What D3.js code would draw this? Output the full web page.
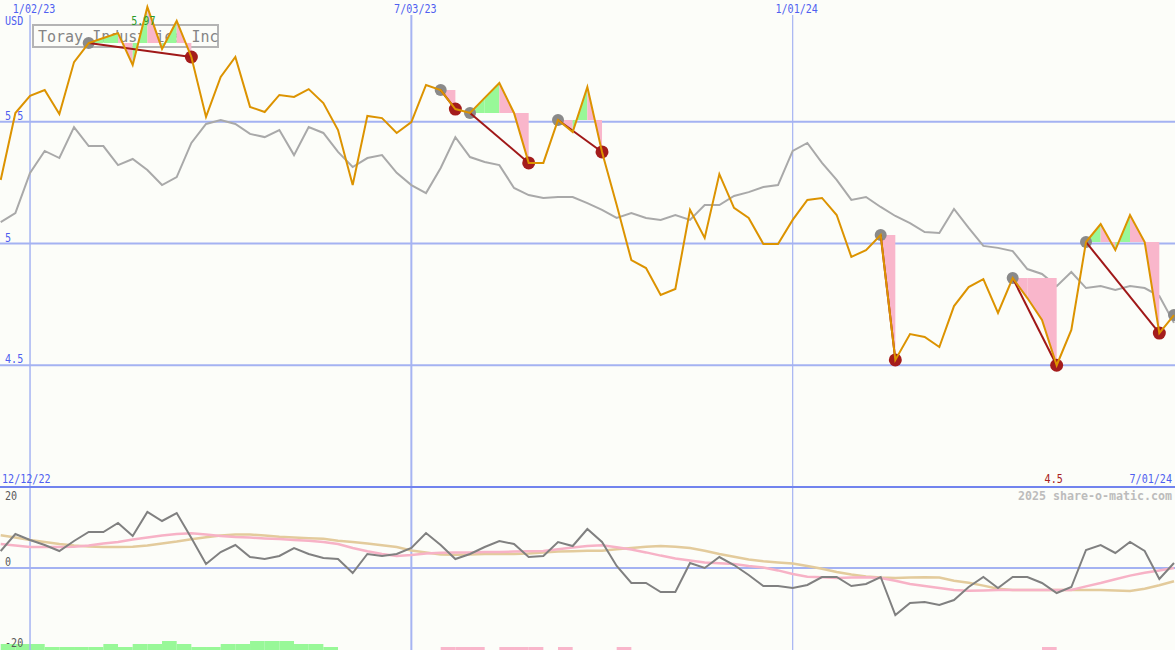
<!DOCTYPE html>
<html><head><meta charset="utf-8">
<script src="https://cdn.jsdelivr.net/npm/d3@7"></script>
<style>
html,body{margin:0;padding:0;background:#fcfdf9;}
svg{display:block;}
text{font-family:"DejaVu Sans Mono","Liberation Mono",monospace;}
</style></head><body>
<svg id="chart" width="1175" height="650"></svg>
<script>
// ---------------- DATA ----------------
const firstWeek = "2022-12-19";           // weekly closes, one per Monday
const endLabel = "7/01/24";
const startLabel = "12/12/22";
const currencyLabel = "USD";
const titleText = "Toray Industries Inc";
const watermark = "2025 share-o-matic.com";

const priceValues = [
 5.261,5.536,5.606,5.630,5.532,5.745,5.823,5.844,5.864,5.733,
 5.971,5.799,5.914,5.766,5.520,5.684,5.766,5.561,5.540,5.610,
 5.602,5.634,5.577,5.466,5.240,5.524,5.515,5.454,5.499,5.651,
 5.630,5.552,5.536,5.598,5.659,5.536,5.331,5.331,5.507,5.458,
 5.643,5.376,5.158,4.932,4.899,4.789,4.813,5.138,5.023,5.285,
 5.146,5.105,4.998,4.998,5.097,5.179,5.187,5.117,4.945,4.973,
 5.035,4.522,4.628,4.616,4.575,4.743,4.821,4.854,4.715,4.858,
 4.776,4.686,4.500,4.645,5.006,5.080,4.973,5.117,5.006,4.632,
 4.706];

const indexValues = [
 5.088,5.125,5.290,5.380,5.351,5.478,5.400,5.400,5.322,5.347,
 5.302,5.240,5.273,5.413,5.491,5.507,5.491,5.450,5.437,5.466,
 5.363,5.478,5.454,5.376,5.314,5.351,5.363,5.290,5.240,5.207,
 5.310,5.437,5.355,5.335,5.322,5.228,5.199,5.187,5.191,5.191,
 5.166,5.138,5.105,5.125,5.105,5.097,5.117,5.097,5.158,5.158,
 5.195,5.211,5.232,5.240,5.380,5.413,5.331,5.261,5.179,5.191,
 5.150,5.113,5.084,5.047,5.043,5.142,5.064,4.990,4.982,4.969,
 4.895,4.875,4.825,4.883,4.817,4.825,4.809,4.825,4.817,4.784,
 4.674];

const momentumValues = [
 4.25,8.5,7,5.75,4.25,6.75,9,9,11.25,8,
 14,11.75,13.75,7.5,1,4,5.75,2.75,2.25,3,
 5,3.5,2.5,2.25,-1.25,3.5,3,3.5,5,8.75,
 5.75,2.25,3.5,5.25,6.75,6,2.75,3,6.5,5.5,
 9.75,6.5,0.5,-3.75,-3.75,-6,-6,1.25,0,2.75,
 0.75,-1.75,-4.5,-4.5,-5,-4.25,-2.25,-2.25,-4.5,-4,
 -2.25,-11.75,-8.75,-8.5,-9.25,-8,-4.75,-2.25,-5,-2.25,
 -2.25,-3.75,-6.25,-4.75,4.5,5.75,3.75,6.5,4.25,-2.75,
 1.25];

const avgFast = [
 6.0,5.6,5.25,5.25,5.25,5.3,5.6,6.1,6.5,7.1,
 7.6,8.1,8.5,8.7,8.4,8.0,7.75,7.6,7.4,7.25,
 7.0,6.8,6.5,6.0,5.0,4.2,3.5,3.0,3.25,3.6,
 3.8,3.9,3.9,4.0,4.0,4.1,4.2,4.25,4.7,5.1,
 5.5,5.7,5.2,4.6,3.9,3.1,2.4,1.9,1.4,1.2,
 1.0,0.5,0.1,-0.6,-1.5,-2.2,-2.3,-2.5,-2.4,-2.3,
 -2.5,-3.2,-4.0,-4.5,-5.0,-5.5,-5.7,-5.6,-5.5,-5.5,
 -5.5,-5.5,-5.5,-5.5,-4.6,-3.75,-2.8,-1.9,-1.2,-0.6,
 0];

const avgSlow = [
 8.2,7.6,7.0,6.5,6.0,5.6,5.4,5.25,5.25,5.3,
 5.6,6.1,6.6,7.2,7.7,8.1,8.4,8.35,8.1,7.8,
 7.6,7.45,7.3,6.8,6.5,6.1,5.7,5.25,4.4,3.9,
 3.4,3.3,3.4,3.5,3.5,3.5,3.6,3.9,4.1,4.2,
 4.3,4.3,4.7,5.0,5.3,5.5,5.3,5.0,4.3,3.5,
 2.8,2.1,1.7,1.4,1.1,0.5,-0.2,-1.0,-1.6,-2.1,
 -2.4,-2.5,-2.4,-2.3,-2.4,-3.2,-3.7,-4.4,-5.2,-5.5,
 -5.5,-5.5,-5.5,-5.5,-5.5,-5.5,-5.6,-5.75,-5.2,-4.3,
 -3.3];

const signalBars = [
 2,2,2,1,1,1,1,2,1,2,
 2,3,2,1,1,2,2,3,3,3,
 2,2,1,0,0,0,0,0,0,0,
 -1,-1,-1,0,-1,-1,-1,0,-1,0,
 0,0,-1,0,0,0,0,0,0,0,
 0,0,0,0,0,0,0,0,0,0,
 0,0,0,0,0,0,0,0,0,0,
 0,-1,0,0,0,0,0,0,0,0,
 0];

const swingStart = [6,30,32,38,60,69,74,80];
const swingEnd   = [13,31,36,41,61,72,79,null];

const gridDates  = ["2023-01-02","2023-07-03","2024-01-01"];
const gridDateLabels = ["1/02/23","7/03/23","1/01/24"];
const priceTicks = [5.5,5,4.5];
const priceTickLabels = ["5.5","5","4.5"];
const oscTicks = [20,0,-20];
const oscTickLabels = ["20","0","-20"];

// ---------------- DRAWING ----------------
const W = 1175, H = 650;
const svg = d3.select("#chart");
const parse = d3.utcParse("%Y-%m-%d");
const t0 = parse(firstWeek);
const dates = priceValues.map((_, i) => d3.utcDay.offset(t0, 7 * i));

const x = d3.scaleUtc().domain([dates[0], dates[dates.length - 1]]).range([0.7, 1174]);
const y = d3.scaleLinear().domain([4, 6]).range([487, 0]);
const yo = d3.scaleLinear().domain([-20, 20]).range([648, 488]);
const hb = d3.scaleLinear().domain([0, 3]).range([0, 9]);
const step = x(dates[1]) - x(dates[0]);

const BLUE_TXT = "#4f5ff0", GRID = "#a4b2f2";

svg.append("rect").attr("width", W).attr("height", H).attr("fill", "#fcfdf9");

function label(txt, px, py, opts = {}) {
  const sx = opts.sx || 0.84;
  const g = svg.append("g").attr("transform", `translate(${px},${py}) scale(${sx},1)`);
  g.append("text").text(txt)
    .attr("font-size", opts.size || 12)
    .attr("font-weight", opts.weight || "normal")
    .attr("fill", opts.fill || BLUE_TXT)
    .attr("text-anchor", opts.anchor || "start");
  return g;
}

// signal bars (bottom of oscillator panel)
signalBars.forEach((v, i) => {
  if (v === 0) return;
  const h = hb(Math.abs(v));
  svg.append("rect").attr("x", x(dates[i])).attr("width", step)
    .attr("y", H - h).attr("height", h)
    .attr("fill", v > 0 ? "#98f898" : "#f9b6cb");
});

// vertical date grid
const vWidths = [1.5, 2, 1.2];
gridDates.forEach((d, i) => {
  const gx = x(parse(d));
  svg.append("line").attr("x1", gx).attr("x2", gx).attr("y1", 15).attr("y2", H)
    .attr("stroke", "#a6b4f2").attr("stroke-width", vWidths[i]);
  label(gridDateLabels[i], gx + 4, 13, {anchor: "middle"});
});

// horizontal price grid
priceTicks.forEach((t, i) => {
  svg.append("line").attr("x1", 0).attr("x2", W).attr("y1", y(t)).attr("y2", y(t))
    .attr("stroke", GRID).attr("stroke-width", 2);
  label(priceTickLabels[i], 5, y(t) - 2);
});
label(currencyLabel, 5, 25);

// panel divider
svg.append("line").attr("x1", 0).attr("x2", W).attr("y1", 487).attr("y2", 487)
  .attr("stroke", "#7183ee").attr("stroke-width", 2);
// oscillator zero line
svg.append("line").attr("x1", 0).attr("x2", W).attr("y1", yo(0)).attr("y2", yo(0))
  .attr("stroke", GRID).attr("stroke-width", 2);
oscTicks.forEach((t, i) => {
  const ty = t === 20 ? 500 : (t === 0 ? yo(0) - 2 : 647);
  label(oscTickLabels[i], 5, ty, {fill: "#5a5a5a"});
});

// title box
svg.append("rect").attr("x", 33).attr("y", 25).attr("width", 185).attr("height", 22)
  .attr("fill", "none").attr("stroke", "#b4b4b4").attr("stroke-width", 2);
svg.append("text").attr("x", 38).attr("y", 42).text(titleText)
  .attr("font-size", 15).attr("fill", "#858585");

// comparison (gray) line
const lineP = d3.line().x((d, i) => x(dates[i])).y(d => y(d));
svg.append("path").datum(indexValues).attr("d", lineP)
  .attr("fill", "none").attr("stroke", "#a9a9a9").attr("stroke-width", 2);

// swing fills
const fillG = svg.append("g");
swingStart.forEach((s, k) => {
  const e = swingEnd[k];
  if (e == null) return;
  const lvl = y(priceValues[s]);
  for (let i = s; i < e; i++) {
    const x0 = x(dates[i]), x1 = x(dates[i + 1]);
    const y0 = y(priceValues[i]), y1 = y(priceValues[i + 1]);
    fillG.append("path")
      .attr("d", `M${x0},${y0}L${x1},${y1}L${x1},${lvl}L${x0},${lvl}Z`)
      .attr("fill", priceValues[i + 1] > priceValues[i] ? "#98f898" : "#f9b6cb");
  }
});

// swing dots
swingStart.forEach((s, k) => {
  svg.append("circle").attr("cx", x(dates[s])).attr("cy", y(priceValues[s])).attr("r", 6)
    .attr("fill", "#8a8a8a");
  const e = swingEnd[k];
  if (e != null) {
    svg.append("circle").attr("cx", x(dates[e])).attr("cy", y(priceValues[e])).attr("r", 6.5)
      .attr("fill", "#a41c1c");
  }
});
// swing connecting lines
swingStart.forEach((s, k) => {
  const e = swingEnd[k];
  if (e == null) return;
  svg.append("line").attr("x1", x(dates[s])).attr("y1", y(priceValues[s]))
    .attr("x2", x(dates[e])).attr("y2", y(priceValues[e]))
    .attr("stroke", "#a01818").attr("stroke-width", 2);
});

// price line
svg.append("path").datum(priceValues).attr("d", lineP)
  .attr("fill", "none").attr("stroke", "#dc9300").attr("stroke-width", 2);

// max / min labels
const iMax = d3.maxIndex(priceValues), iMin = d3.minIndex(priceValues);
const fmt = d3.format(".2~f");
label(fmt(priceValues[iMax]), x(dates[iMax]) - 4, 25, {anchor: "middle", fill: "#2a9a2a"});
label(fmt(priceValues[iMin]), x(dates[iMin]) - 3, 483, {anchor: "middle", fill: "#a82020"});

// bottom panel labels
label(startLabel, 2, 483);
label(endLabel, 1172, 483, {anchor: "end"});
label(watermark, 1172, 500, {anchor: "end", fill: "#bcbcbc", weight: "bold", size: 12, sx: 0.97});

// oscillator lines
const lineO = d3.line().x((d, i) => x(dates[i])).y(d => yo(d));
svg.append("path").datum(avgSlow).attr("d", lineO)
  .attr("fill", "none").attr("stroke", "#e3cb9c").attr("stroke-width", 2.5);
svg.append("path").datum(avgFast).attr("d", lineO)
  .attr("fill", "none").attr("stroke", "#f7b2c6").attr("stroke-width", 2.5);
svg.append("path").datum(momentumValues).attr("d", lineO)
  .attr("fill", "none").attr("stroke", "#808080").attr("stroke-width", 2);
</script>
</body></html>
